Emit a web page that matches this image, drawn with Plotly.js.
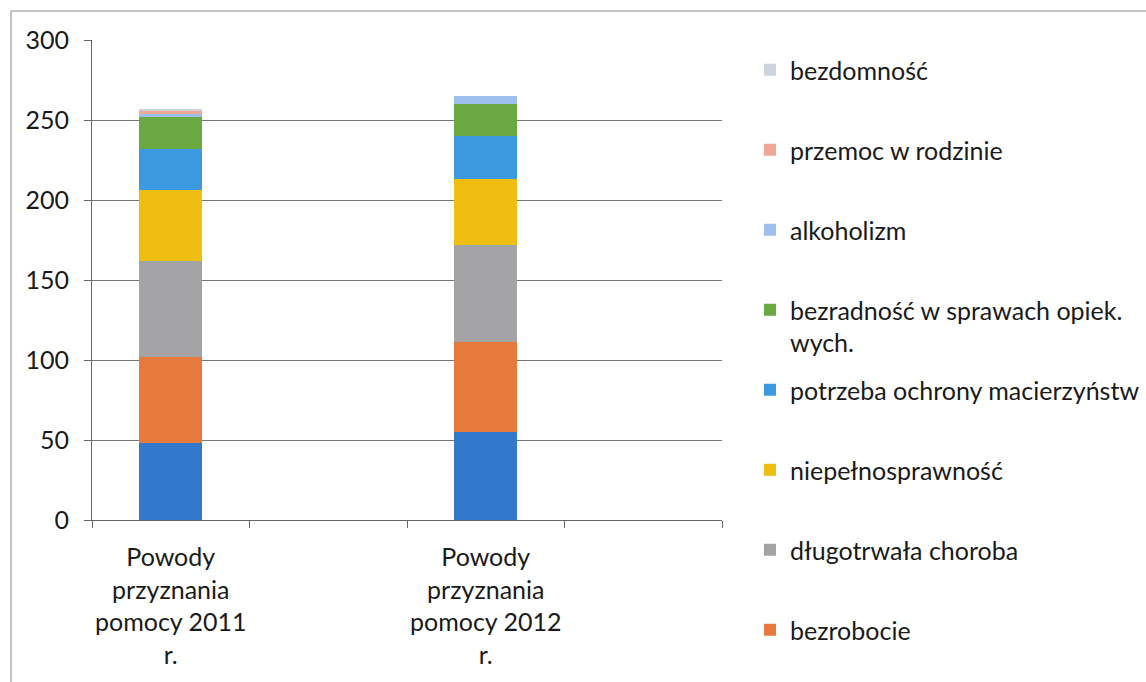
<!DOCTYPE html>
<html>
<head>
<meta charset="utf-8">
<script src="https://cdn.plot.ly/plotly-3.0.1.min.js"></script>
<style>
  html, body { margin: 0; padding: 0; background: #fff; }
  #chart { width: 1146px; height: 682px; }
</style>
</head>
<body>
<div id="chart"></div>
<script>
// ---- data ----
const categories = [
  "Powody<br>przyznania<br>pomocy 2011<br>r.",
  " ",
  "Powody<br>przyznania<br>pomocy 2012<br>r.",
  "  "
];
const seriesNames = [
  "ubóstwo",
  "bezrobocie",
  "długotrwała choroba",
  "niepełnosprawność",
  "potrzeba ochrony macierzyństw",
  "bezradność w sprawach opiek.<br>wych.",
  "alkoholizm",
  "przemoc w rodzinie",
  "bezdomność"
];
// values for [2011, (empty), 2012, (empty)]
const ubostwo        = [48, null, 55, null];
const bezrobocie     = [54, null, 56, null];
const choroba        = [60, null, 61, null];
const niepelnospr    = [44, null, 41, null];
const macierzynstwo  = [26, null, 27, null];
const bezradnosc     = [20, null, 20, null];
const alkoholizm     = [2, null, 5, null];
const przemoc        = [1.5, null, 0, null];
const bezdomnosc     = [1.5, null, 0, null];
const seriesValues = [ubostwo, bezrobocie, choroba, niepelnospr, macierzynstwo, bezradnosc, alkoholizm, przemoc, bezdomnosc];
const yTicks = [0, 50, 100, 150, 200, 250, 300];

// ---- styling ----
const colors = ["#3278cc", "#e8793c", "#a4a4a6", "#efbe10", "#3c9be0", "#6aa842", "#9ec0ee", "#f2a796", "#cdd3dc"];
const FONT = "Lato, 'Open Sans', sans-serif";
const FS = 25;
const W = 1146, H = 682;
const plotL = 92, plotR = 722, plotT = 40, plotB = 520;
const px2x = p => (p - plotL) / (plotR - plotL);
const px2y = p => (plotB - p) / (plotB - plotT);

// legend rows (pixel centre of each entry, top to bottom)
const legendRows = {8: 70, 7: 150, 6: 230, 5: 326, 4: 390, 3: 470, 2: 550, 1: 630};

const traces = seriesNames.map((name, i) => {
  const t = {
    type: "bar",
    name: name,
    x: categories,
    y: seriesValues[i],
    marker: { color: colors[i], line: { width: 0 } },
    hoverinfo: "name+y"
  };
  if (i === 0) {
    t.showlegend = false;
  } else {
    t.legend = "legend" + (i === 1 ? "" : i);
  }
  return t;
});

const layout = {
  width: W, height: H,
  margin: { l: plotL, r: W - plotR, t: plotT, b: H - plotB, pad: 0, autoexpand: false },
  paper_bgcolor: "#ffffff",
  plot_bgcolor: "#ffffff",
  barmode: "stack",
  bargap: 0.6,
  font: { family: FONT, size: FS, color: "#1a1a1a" },
  xaxis: {
    type: "category",
    categoryorder: "array",
    categoryarray: categories,
    tickson: "boundaries",
    tickangle: 0,
    automargin: false,
    ticks: "outside", ticklen: 7, tickcolor: "#666",
    ticklabelstandoff: 15,
    showline: true, linecolor: "#666", linewidth: 1,
    showgrid: false,
    tickfont: { family: FONT, size: FS, color: "#1a1a1a" },
    fixedrange: true
  },
  yaxis: {
    range: [0, 300],
    tickvals: yTicks,
    ticktext: yTicks.map(String),
    automargin: false,
    ticks: "outside", ticklen: 7, tickcolor: "#666",
    ticklabelstandoff: 10,
    showline: true, linecolor: "#666", linewidth: 1,
    showgrid: true, gridcolor: "#777", gridwidth: 1,
    zeroline: false,
    tickfont: { family: FONT, size: FS, color: "#1a1a1a" },
    fixedrange: true
  },
  shapes: [
    { type: "line", xref: "paper", yref: "paper", x0: px2x(11), x1: px2x(11), y0: px2y(11), y1: px2y(700), line: { color: "#8a8a8a", width: 1 } },
    { type: "line", xref: "paper", yref: "paper", x0: px2x(11), x1: px2x(1200), y0: px2y(11), y1: px2y(11), line: { color: "#8a8a8a", width: 1 } }
  ]
};

for (let i = 1; i <= 8; i++) {
  const key = "legend" + (i === 1 ? "" : i);
  layout[key] = {
    x: px2x(750), xanchor: "left",
    y: px2y(legendRows[i]), yanchor: "middle",
    bgcolor: "rgba(0,0,0,0)",
    borderwidth: 0,
    valign: "top",
    font: { family: FONT, size: FS, color: "#1a1a1a" }
  };
}

Plotly.newPlot("chart", traces, layout, { displayModeBar: false, staticPlot: true });
</script>
</body>
</html>
